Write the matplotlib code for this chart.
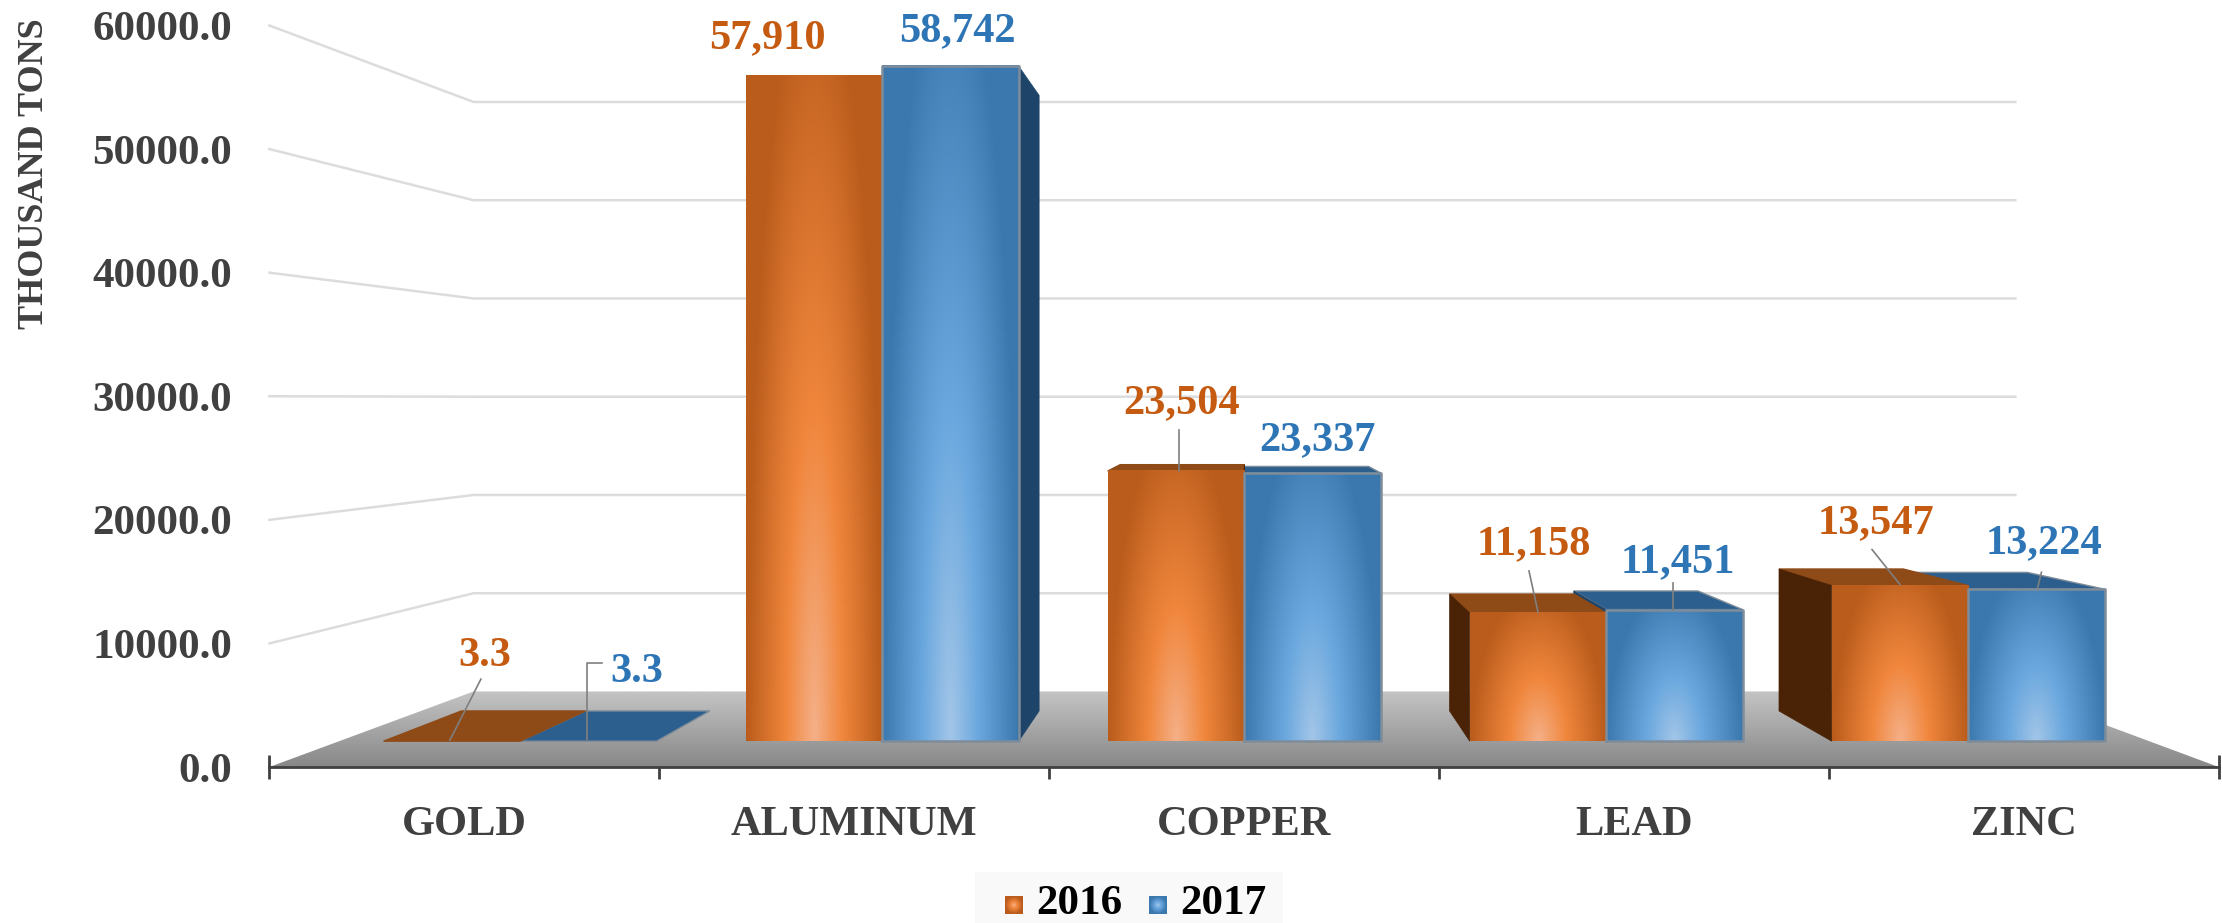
import numpy as np
import matplotlib
matplotlib.use('Agg')
import matplotlib.pyplot as plt
from matplotlib.colors import to_rgb
from matplotlib.lines import Line2D
from matplotlib.patches import Patch, Polygon, Rectangle
from matplotlib.transforms import IdentityTransform

# ── Data ──────────────────────────────────────────────────────────────────────
metals = ['GOLD', 'ALUMINUM', 'COPPER', 'LEAD', 'ZINC']
years = ['2016', '2017']
values_2016 = [3.3, 57910, 23504, 11158, 13547]
values_2017 = [3.3, 58742, 23337, 11451, 13224]
labels_2016 = ['3.3', '57,910', '23,504', '11,158', '13,547']
labels_2017 = ['3.3', '58,742', '23,337', '11,451', '13,224']
y_ticks = [0, 10000, 20000, 30000, 40000, 50000, 60000]

# ── Style ─────────────────────────────────────────────────────────────────────
plt.rcParams['font.family'] = ['Liberation Serif', 'DejaVu Serif']
plt.rcParams['font.weight'] = 'bold'

W, H = 2223, 923
TEXT = '#404040'
ORANGE = '#C55A11'
BLUE = '#2E75B6'
GRID = '#DCDCDC'
LEADER = '#7F7F7F'

# perspective: plane depth s, vanishing point in data units
X_VANISH, V_VANISH = 2.505, 29816
S_BACK = 0.795      # back wall
S_BAR_FRONT = 0.93
S_BAR_BACK = 0.848
BAR_W = 0.377

ORANGE_STOPS = ['#F5B088', '#F0863C', '#BA5C1C']
BLUE_STOPS = ['#A3C6E8', '#69A7DE', '#3A78AE']
SIDE = ['#4A2307', '#1E4569']
TOP = ['#8E4A17', '#2C5F8E']
EDGE = [None, '#7F8C99']

# label offsets from the top centre of each bar (pixels, up positive)
label_offset = [
    [(33, 85), (-47, 37), (6, 68), (-4, 69), (-24, 62)],
    [(48, 69), (7, 35), (5, 33), (3, 47), (8, 46)],
]
# leader lines as pixel offsets from the same anchor, None if there is no line
leaders = [
    [[(29, 62), (-2, 1)], None, [(3, 41), (3, 0)], [(-9, 42), (0, 1)], [(-28, 36), (0, 1)]],
    [[(-1, 1), (-1, 78), (14, 78)], None, None, [(-1, 27), (-1, 0)], [(5, 17), (1, 1)]],
]


def project(x, v, s):
    sx = 1 - 1.02 * (1 - s)
    return X_VANISH + (x - X_VANISH) * sx, V_VANISH + (v - V_VANISH) * s


def radial(stops, n=80):
    # light at bottom centre, dark towards the edges, less so towards the top
    u, t = np.meshgrid(np.linspace(-1, 1, n), np.linspace(0, 1, n))
    r = np.clip(np.sqrt(u ** 2 + (0.85 * t) ** 2), 0, 1)
    rgb = np.array([to_rgb(c) for c in stops])
    return np.dstack([np.interp(r, [0, 0.42, 1], rgb[:, i]) for i in range(3)])


fig = plt.figure(figsize=(W / 100, H / 100), dpi=100, facecolor='white')
ax = fig.add_axes([269.4 / W, (H - 767) / H, 1949.3 / W, 741.5 / H])
ax.set_xlim(0, 5)
ax.set_ylim(0, 60000)
ax.set_autoscale_on(False)
ax.patch.set_visible(False)

# ── Walls and floor ───────────────────────────────────────────────────────────
for v in y_ticks[1:]:
    x0, y0 = project(0, v, 1)
    x1, y1 = project(0, v, S_BACK)
    x2, y2 = project(5, v, S_BACK)
    ax.plot([x0, x1, x2], [y0, y1, y2], color=GRID, lw=1.8, zorder=1, clip_on=False)

floor = [project(0, 0, 1), project(5, 0, 1), project(5, 0, S_BACK), project(0, 0, S_BACK)]
floor_v = project(0, 0, S_BACK)[1]
shade = np.linspace(0, 1, 64)[:, None]
floor_rgb = np.dstack([np.interp(shade, [0, 1], [0x88 / 255, 0xC4 / 255])] * 3)
im = ax.imshow(floor_rgb, extent=[0, 5, 0, floor_v], origin='lower', aspect='auto',
               interpolation='bilinear', zorder=2)
im.set_clip_path(Polygon(floor, transform=ax.transData))

# ── Bars ──────────────────────────────────────────────────────────────────────
z = 3
for i in range(len(metals)):
    cx = i + 0.5
    spans = [(cx - BAR_W, cx), (cx, cx + BAR_W)]
    vals = [values_2016[i], values_2017[i]]

    # top and side faces first, the later series sits behind the earlier one
    for k in (1, 0):
        xl, xr = spans[k]
        v = vals[k]
        if v < V_VANISH:
            top = [project(xl, v, S_BAR_FRONT), project(xr, v, S_BAR_FRONT),
                   project(xr, v, S_BAR_BACK), project(xl, v, S_BAR_BACK)]
            ax.add_patch(Polygon(top, fc=TOP[k], ec=EDGE[k] or TOP[k], lw=1, zorder=z))
            z += 1
        if v > 100 and xl > X_VANISH:
            side = [project(xl, 0, S_BAR_FRONT), project(xl, v, S_BAR_FRONT),
                    project(xl, v, S_BAR_BACK), project(xl, 0, S_BAR_BACK)]
            ax.add_patch(Polygon(side, fc=SIDE[k], ec=SIDE[k], lw=0.5, zorder=z))
            z += 1
        if v > 100 and xr < X_VANISH:
            side = [project(xr, 0, S_BAR_FRONT), project(xr, v, S_BAR_FRONT),
                    project(xr, v, S_BAR_BACK), project(xr, 0, S_BAR_BACK)]
            ax.add_patch(Polygon(side, fc=SIDE[k], ec=SIDE[k], lw=0.5, zorder=z))
            z += 1

    # front faces
    for k in (0, 1):
        if vals[k] < 100:
            continue
        xl, xr = spans[k]
        x0, y0 = project(xl, 0, S_BAR_FRONT)
        x1, y1 = project(xr, vals[k], S_BAR_FRONT)
        stops = ORANGE_STOPS if k == 0 else BLUE_STOPS
        ax.imshow(radial(stops), extent=[x0, x1, y0, y1], origin='lower', aspect='auto',
                  interpolation='bilinear', zorder=z)
        z += 1
        if EDGE[k]:
            ax.plot([x0, x0, x1, x1, x0], [y0, y1, y1, y0, y0], color=EDGE[k], lw=1.8, zorder=z)
            z += 1

# ── Axes ──────────────────────────────────────────────────────────────────────
for name in ('top', 'left', 'right'):
    ax.spines[name].set_visible(False)
ax.spines['bottom'].set_color(TEXT)
ax.spines['bottom'].set_linewidth(2)
ax.spines['bottom'].set_zorder(500)

ax.set_yticks(y_ticks)
ax.set_yticklabels([f'{v:.1f}' for v in y_ticks])
ax.tick_params(axis='y', length=0, pad=27, labelsize=31, labelcolor=TEXT)
ax.set_ylabel('THOUSAND TONS', fontsize=26, color=TEXT, fontweight='bold')
ax.yaxis.set_label_coords(-0.112, 0.80)

ax.set_xticks(range(6))
ax.set_xticklabels([])
ax.set_xticks(np.arange(len(metals)) + 0.5, labels=metals, minor=True)
ax.tick_params(axis='x', which='major', direction='inout', length=17, width=2, color=TEXT)
ax.tick_params(axis='x', which='minor', length=0, pad=28, labelsize=30.5, labelcolor=TEXT)
for t in ax.xaxis.get_major_ticks():
    t.tick1line.set_zorder(500)

# ── Data labels and leader lines ──────────────────────────────────────────────
series = [(values_2016, labels_2016, ORANGE), (values_2017, labels_2017, BLUE)]
for k, (vals, texts, color) in enumerate(series):
    for i, (v, txt) in enumerate(zip(vals, texts)):
        cx = i + 0.5 + (BAR_W / 2 if k else -BAR_W / 2)
        anchor = project(cx, v, S_BAR_FRONT)
        ax.annotate(txt, xy=anchor, xytext=label_offset[k][i], textcoords='offset pixels',
                    ha='center', va='center', color=color, fontsize=30.5, zorder=600)
        if leaders[k][i]:
            px, py = ax.transData.transform(anchor)
            lx = [px + p[0] for p in leaders[k][i]]
            ly = [py + p[1] for p in leaders[k][i]]
            fig.add_artist(Line2D(lx, ly, color=LEADER, lw=1.2, transform=IdentityTransform(),
                                  zorder=600))

# ── Legend ────────────────────────────────────────────────────────────────────
fig.add_artist(Rectangle((975 / W, 0), 308 / W, 51 / H, transform=fig.transFigure,
                         fc='#F9F9F9', ec='none', zorder=-1))
handles = [Patch(fc='#ED7D31', label=years[0]), Patch(fc='#5B9BD5', label=years[1])]
leg = fig.legend(handles=handles, loc='lower center', bbox_to_anchor=(0.511, -0.007),
                 ncol=2, frameon=False, fontsize=31, borderpad=0.15, handlelength=0.4,
                 handleheight=0.4, handletextpad=0.33, columnspacing=0.62, borderaxespad=0)
fig.canvas.draw()
for handle, text, stops in zip(leg.legend_handles, leg.get_texts(), [ORANGE_STOPS, BLUE_STOPS]):
    box = handle.get_window_extent()
    tbox = text.get_window_extent()
    handle.set_visible(False)
    n = 18
    u, t = np.meshgrid(np.linspace(-1, 1, n), np.linspace(-1, 1, n))
    r = np.clip(np.sqrt(u ** 2 + t ** 2), 0, 1)
    rgb = np.array([to_rgb(c) for c in stops])
    marker = np.dstack([np.interp(r, [0, 0.4, 1], rgb[:, c]) for c in range(3)])
    fig.figimage(marker, xo=int(box.x0), yo=int((tbox.y0 + tbox.y1 - n) / 2), origin='lower', zorder=700)

fig.savefig('out.png', dpi=100, facecolor='white')
